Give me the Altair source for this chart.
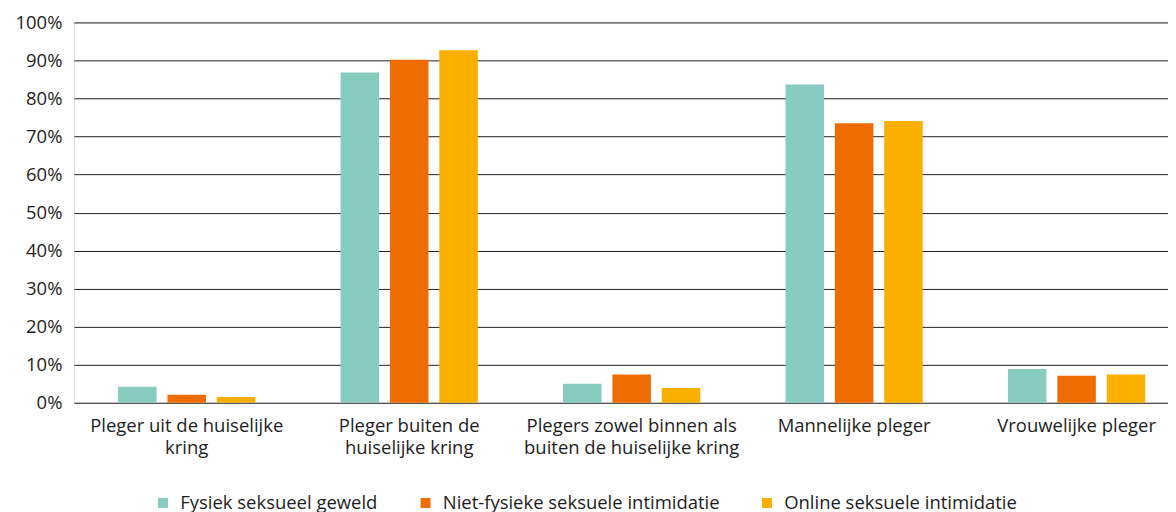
import altair as alt
import pandas as pd

categories = [
    "Pleger uit de huiselijke kring",
    "Pleger buiten de huiselijke kring",
    "Plegers zowel binnen als buiten de huiselijke kring",
    "Mannelijke pleger",
    "Vrouwelijke pleger",
]
label_lines = [
    ["Pleger uit de huiselijke", "kring"],
    ["Pleger buiten de", "huiselijke kring"],
    ["Plegers zowel binnen als", "buiten de huiselijke kring"],
    ["Mannelijke pleger"],
    ["Vrouwelijke pleger"],
]
series = [
    "Fysiek seksueel geweld",
    "Niet-fysieke seksuele intimidatie",
    "Online seksuele intimidatie",
]
fysiek = [4.2, 86.8, 5.0, 83.7, 8.9]
niet_fysiek = [2.1, 90.2, 7.4, 73.5, 7.1]
online = [1.5, 92.7, 3.9, 74.1, 7.4]
colors = ["#88CBC0", "#EF6C00", "#FBAF00"]
y_ticks = list(range(0, 101, 10))

rows = []
for s, vals in zip(series, [fysiek, niet_fysiek, online]):
    for c, v in zip(categories, vals):
        rows.append({"cat": c, "series": s, "value": v})
df = pd.DataFrame(rows)

expr = "''"
for c, lines in reversed(list(zip(categories, label_lines))):
    arr = "[" + ",".join("'" + l + "'" for l in lines) + "]"
    expr = f"datum.label == '{c}' ? {arr} : ({expr})"

FONT = "Open Sans"
TXT = "#1e1e1e"
FS = 18.5

chart = alt.Chart(df).mark_bar().encode(
    x=alt.X(
        "cat:N",
        sort=categories,
        scale=alt.Scale(paddingInner=0.383, paddingOuter=0.1505, align=0.66),
        axis=alt.Axis(
            title=None, labelAngle=0, labelExpr=expr, ticks=False, domain=False,
            labelPadding=14, labelFontSize=FS, labelLineHeight=22,
            labelColor=TXT, labelLimit=400, labelFont=FONT,
        ),
    ),
    xOffset=alt.XOffset(
        "series:N", sort=series,
        scale=alt.Scale(paddingInner=0.22, paddingOuter=0),
    ),
    y=alt.Y(
        "value:Q",
        scale=alt.Scale(domain=[0, 100], nice=False),
        axis=alt.Axis(
            title=None, values=y_ticks, labelExpr="datum.value + '%'",
            ticks=False, domain=False, gridColor="#222222", gridWidth=1,
            labelPadding=12, labelFontSize=FS, labelColor=TXT, labelFont=FONT,
        ),
    ),
    color=alt.Color(
        "series:N", sort=series,
        scale=alt.Scale(domain=series, range=colors),
        legend=alt.Legend(
            title=None, orient="none", legendX=80, legendY=472,
            direction="horizontal", symbolType="square", symbolSize=100,
            symbolStrokeWidth=0, labelFontSize=FS, labelFont=FONT,
            labelColor=TXT, columnPadding=38, padding=0, labelOffset=8,
            labelLimit=400,
        ),
    ),
).properties(
    width=1096, height=381,
    padding={"top": 5, "left": 6, "right": 0, "bottom": 0},
).configure_view(stroke=None).configure(font=FONT)

chart.save("out.html", embed_options={"renderer": "svg", "actions": False})
